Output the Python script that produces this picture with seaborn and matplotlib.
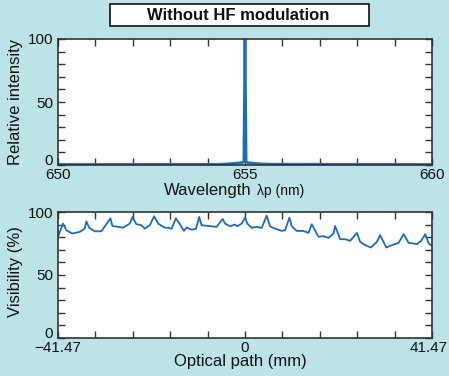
import matplotlib
matplotlib.use("Agg")
import matplotlib.pyplot as plt
import matplotlib.transforms as mtrans
import seaborn as sns
import numpy as np
from matplotlib.patches import Rectangle

# ---- data ----
title_text = "Without HF modulation"

wavelength = [650.0, 654.3, 654.6, 654.8, 654.93, 654.97, 655.0, 655.03, 655.07, 655.2, 655.4, 655.7, 660.0]
intensity = [0.4, 0.5, 1.0, 1.5, 2.0, 2.6, 100.0, 2.6, 1.9, 1.5, 0.9, 0.6, 0.4]

path_mm = [-41.47, -40.36, -39.62, -38.29, -36.66, -35.55, -35.18, -34.58, -33.32, -31.84,
           -29.84, -29.40, -27.03, -25.55, -24.96, -24.07, -22.96, -22.22, -21.11, -20.14,
           -19.25, -18.14, -17.55, -17.03, -16.29, -15.33, -14.44, -13.55, -12.96, -11.85,
           -10.89, -10.15, -9.63, -6.30, -4.96, -4.44, -3.33, -2.22, -1.70, -0.74,
           0.00, 0.52, 1.48, 2.59, 3.70, 4.81, 5.55, 6.66, 8.15, 8.89,
           9.85, 10.37, 11.48, 12.96, 14.07, 14.81, 16.29, 17.40, 18.51, 19.62,
           19.99, 21.11, 22.22, 23.33, 24.81, 25.55, 26.66, 27.92, 29.25, 29.99,
           31.32, 32.58, 34.06, 35.18, 36.29, 38.14, 39.03, 39.99, 40.73, 41.47]
visibility = [80.3, 90.8, 85.5, 82.9, 84.2, 86.8, 92.6, 87.6, 84.7, 84.7,
              95.0, 88.9, 87.6, 90.8, 96.0, 90.3, 89.5, 86.8, 89.5, 96.6,
              90.8, 88.2, 87.4, 87.6, 86.6, 95.0, 90.3, 85.0, 87.6, 86.0,
              86.6, 96.0, 89.5, 88.2, 94.5, 90.8, 88.7, 90.0, 88.7, 90.8,
              95.5, 90.8, 87.4, 88.2, 87.4, 97.1, 88.7, 86.8, 85.0, 85.5,
              95.5, 88.7, 85.0, 85.0, 83.4, 90.3, 80.3, 80.8, 79.5, 82.9,
              88.9, 78.4, 78.4, 77.1, 83.4, 76.3, 73.7, 71.8, 76.3, 81.6,
              71.8, 73.7, 75.5, 82.4, 75.5, 74.5, 77.1, 82.4, 75.0, 73.2]

wl_ticklabels = ["650", "655", "660"]
path_ticklabels = ["\u221241.47", "0", "41.47"]
y_ticklabels = ["0", "50", "100"]

# ---- style ----
sns.set_style("ticks")
plt.rcParams["font.family"] = ["Liberation Sans", "DejaVu Sans"]
bg = "#bce3e6"
line_c = "#1a6dbd"
spine_c = "#333333"
txt_c = "#111111"

fig = plt.figure(figsize=(4.49, 3.76), dpi=100, facecolor=bg)
W, H = 449, 376

def axes_px(l, t, r, b):
    return fig.add_axes([l / W, 1 - b / H, (r - l) / W, (b - t) / H])

ax1 = axes_px(58, 39, 432, 165)
ax2 = axes_px(58, 212, 432, 338)

def style(ax):
    ax.set_facecolor("white")
    for s in ax.spines.values():
        s.set_color(spine_c)
        s.set_linewidth(1.2)
    ax.tick_params(direction="in", length=5, width=1.0, color=spine_c,
                   top=True, right=True, labelsize=11, labelcolor=txt_c)
    ax.tick_params(axis="x", pad=2)
    ax.tick_params(axis="y", pad=3.5)

def y_labels(ax):
    ax.set_yticks(np.arange(0, 101, 10))
    ax.set_yticklabels([y_ticklabels[0] if v == 0 else y_ticklabels[1] if v == 50
                        else y_ticklabels[2] if v == 100 else "" for v in range(0, 101, 10)])
    ax.get_yticklabels()[0].set_va("baseline")

sns.lineplot(x=wavelength, y=intensity, ax=ax1, color=line_c, linewidth=2.0)
style(ax1)
ax1.set_xlim(650, 660)
ax1.set_ylim(0, 100)
ax1.set_xticks(np.arange(650, 661, 1))
ax1.set_xticklabels([wl_ticklabels[0] if v == 650 else wl_ticklabels[1] if v == 655
                     else wl_ticklabels[2] if v == 660 else "" for v in range(650, 661)])
y_labels(ax1)
ax1.set_xlabel("")
ax1.set_ylabel("Relative intensity", fontsize=12, color=txt_c)
ax1.yaxis.set_label_coords(-0.094, 0.5)
fig.text(252 / W, 1 - 195 / H, "Wavelength", ha="right", va="baseline", fontsize=12, color=txt_c)
fig.text(257 / W, 1 - 195 / H, "\u03bbp (nm)", ha="left", va="baseline", fontsize=10, color=txt_c)

sns.lineplot(x=path_mm, y=visibility, ax=ax2, color=line_c, linewidth=1.3)
style(ax2)
ax2.set_xlim(-41.47, 41.47)
ax2.set_ylim(0, 100)
xt = np.linspace(-41.47, 41.47, 11)
ax2.set_xticks(xt)
labs = [""] * 11
labs[0], labs[5], labs[10] = path_ticklabels
ax2.set_xticklabels(labs)
last = ax2.get_xticklabels()[-1]
last.set_transform(last.get_transform() + mtrans.ScaledTranslation(-3 / 100, 0, fig.dpi_scale_trans))
y_labels(ax2)
ax2.set_xlabel("Optical path (mm)", fontsize=12, color=txt_c)
ax2.xaxis.set_label_coords(0.487, -0.13)
ax2.set_ylabel("Visibility (%)", fontsize=12, color=txt_c)
ax2.yaxis.set_label_coords(-0.094, 0.53)

# title box
fig.patches.append(Rectangle((110 / W, 1 - 26 / H), 259 / W, 22 / H, transform=fig.transFigure,
                             facecolor="white", edgecolor=txt_c, linewidth=1.2, zorder=1))
fig.text(238 / W, 1 - 15.5 / H, title_text, ha="center", va="center", fontsize=12,
         fontweight="bold", color=txt_c, zorder=2)

fig.savefig("out.png", dpi=100, facecolor=bg)
